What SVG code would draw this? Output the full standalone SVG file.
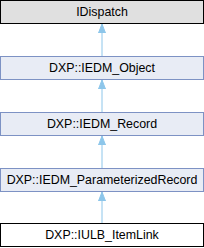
<svg xmlns="http://www.w3.org/2000/svg" width="204" height="248" viewBox="0 0 204 248">
<style>
.t{font-family:"Liberation Sans",Arial,sans-serif;font-size:12.4px;fill:#000;text-anchor:middle}
.b{fill:#e8ecf5;stroke:#7d92c4;stroke-width:1}
.g{fill:#e0e0e0;stroke:#000;stroke-width:1}
.w{fill:#fff;stroke:#000;stroke-width:1}
.e{stroke:#8dc6ea;stroke-width:1;fill:none}
</style>
<defs>
<marker id="ah" markerWidth="10" markerHeight="10" refX="9" refY="4" orient="auto" markerUnits="userSpaceOnUse">
<path d="M0,0.5 L9,4 L0,7.5 Z" fill="#8dc6ea" stroke="#8dc6ea" stroke-width="1"/>
</marker>
</defs>
<g id="connectors">
<line class="e" x1="102" y1="56" x2="102" y2="24" marker-end="url(#ah)"/>
<line class="e" x1="102" y1="112" x2="102" y2="80" marker-end="url(#ah)"/>
<line class="e" x1="102" y1="168" x2="102" y2="136" marker-end="url(#ah)"/>
<line class="e" x1="102" y1="223" x2="102" y2="192" marker-end="url(#ah)"/>
</g>
<g id="IDispatch"><rect class="g" x="0.5" y="0.5" width="203" height="23"/><text class="t" x="102" y="16">IDispatch</text></g>
<g id="IEDM_Object"><rect class="b" x="0.5" y="56.5" width="203" height="23"/><text class="t" x="102" y="72">DXP::IEDM_Object</text></g>
<g id="IEDM_Record"><rect class="b" x="0.5" y="112.5" width="203" height="23"/><text class="t" x="102" y="128">DXP::IEDM_Record</text></g>
<g id="IEDM_ParameterizedRecord"><rect class="b" x="0.5" y="168.5" width="203" height="23"/><text class="t" x="102" y="184">DXP::IEDM_ParameterizedRecord</text></g>
<g id="IULB_ItemLink"><rect class="w" x="0.5" y="223.5" width="203" height="23"/><text class="t" x="102" y="239">DXP::IULB_ItemLink</text></g>
</svg>
